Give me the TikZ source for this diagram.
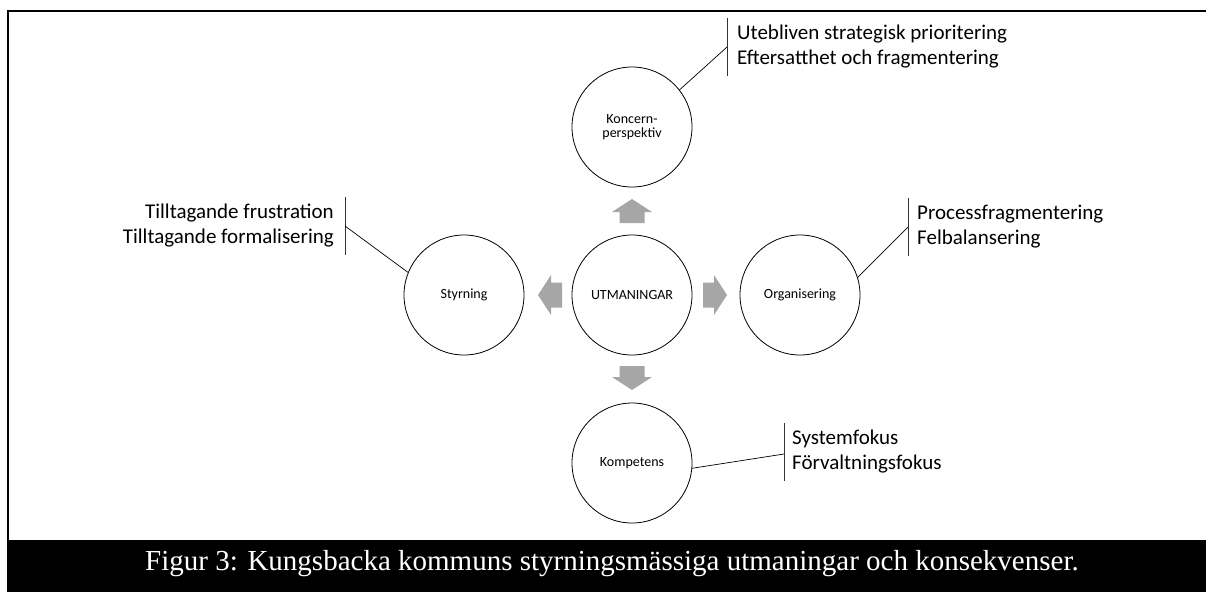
\documentclass[tikz,border=0pt]{standalone}
\usepackage{fontspec}
\setmainfont{Carlito}
\newfontfamily\capfont{Liberation Serif}
\usetikzlibrary{positioning,calc}
\definecolor{pilgra}{HTML}{A6A6A6}

\begin{document}
\begin{tikzpicture}[x=1pt, y=-1pt,
    ring/.style={draw, circle, line width=0.8pt, minimum size=120pt, inner sep=0pt, align=center, font=\fontsize{14}{14}\selectfont},
    pil/.pic={\fill[pilgra] (-12,-12.5) -- (-1,-12.5) -- (-1,-20) -- (12,0) -- (-1,20) -- (-1,12.5) -- (-12,12.5) -- cycle;},
    txt/.style={inner sep=0pt, font=\fontsize{21}{25}\selectfont},
    bar/.style={line width=0.9pt, draw=black!80},
    lead/.style={line width=0.7pt}
]
\useasboundingbox (0,0) rectangle (1206,592);
% ram och bildtext
\draw[line width=2pt] (8,540) -- (8,11) -- (1206,11);
\fill[black] (7,540) rectangle (1206,592);
\node[text=white, inner sep=0pt, font=\capfont\fontsize{29}{34}\selectfont] (cap) at (612,564) {Figur 3: Kungsbacka kommuns styrningsmässiga utmaningar och konsekvenser.};

% cirklar
\node[ring] (utm) at (632,295) {UTMANINGAR};
\node[ring] (kon) at (632,127) {Koncern-\\perspektiv};
\node[ring] (org) at (800,295) {Organisering};
\node[ring] (sty) at (464,295) {Styrning};
\node[ring] (kom) at (632,463) {Kompetens};

% pilar
\pic[rotate=90] at (632,211) {pil};
\pic at (715,295) {pil};
\pic[rotate=180] at (550,295) {pil};
\pic[rotate=270] at (632,378) {pil};

% kommentarer
\coordinate (konBar) at (727,47);
\node[txt, anchor=west, align=left, right=10pt of konBar] (konTxt) {Utebliven strategisk prioritering\\Eftersatthet och fragmentering};
\draw[bar] ($(konBar)+(0,-29)$) -- ($(konBar)+(0,29)$);
\draw[lead] (kon.38) -- (konBar);

\coordinate (styBar) at (345,226);
\node[txt, anchor=east, align=right, left=11pt of styBar] (styTxt) {Tilltagande frustration\\Tilltagande formalisering};
\draw[bar] ($(styBar)+(0,-29)$) -- ($(styBar)+(0,29)$);
\draw[lead] (sty.158) -- (styBar);

\coordinate (orgBar) at (908,227);
\node[txt, anchor=west, align=left, right=9pt of orgBar] (orgTxt) {Processfragmentering\\Felbalansering};
\draw[bar] ($(orgBar)+(0,-29)$) -- ($(orgBar)+(0,29)$);
\draw[lead] (org.17) -- (orgBar);

\coordinate (komBar) at (784,452);
\node[txt, anchor=west, align=left, right=8pt of komBar] (komTxt) {Systemfokus\\Förvaltningsfokus};
\draw[bar] ($(komBar)+(0,-29)$) -- ($(komBar)+(0,29)$);
\draw[lead] (kom.-5) -- ($(komBar)+(0,2)$);
\end{tikzpicture}
\end{document}
